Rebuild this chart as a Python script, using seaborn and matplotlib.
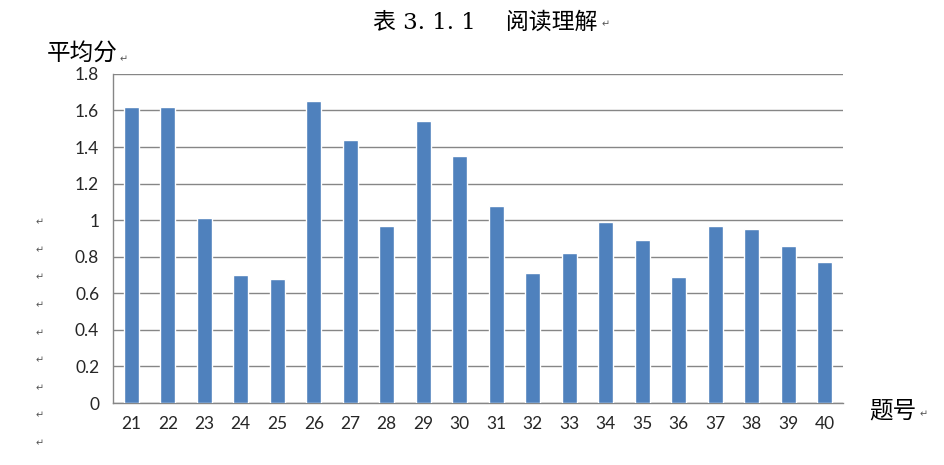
import pandas as pd
import seaborn as sns
import matplotlib.pyplot as plt

# question numbers and average scores
questions = [str(q) for q in range(21, 41)]
scores = [1.62, 1.62, 1.01, 0.70, 0.68, 1.65, 1.44, 0.97, 1.54, 1.35,
          1.08, 0.71, 0.82, 0.99, 0.89, 0.69, 0.97, 0.95, 0.86, 0.77]
yticks = [0, 0.2, 0.4, 0.6, 0.8, 1, 1.2, 1.4, 1.6, 1.8]
ytick_labels = ["0", "0.2", "0.4", "0.6", "0.8", "1", "1.2", "1.4", "1.6", "1.8"]

df = pd.DataFrame({"题号": questions, "平均分": scores})

sns.set_style("white")
plt.rcParams['font.family'] = ['Noto Sans CJK SC', 'DejaVu Sans']

fig = plt.figure(figsize=(9.45, 4.65), dpi=100)
ax = fig.add_axes([0.1196, 0.1333, 0.7725, 0.7077])

sns.barplot(data=df, x="题号", y="平均分", color="#4F81BD", width=0.42,
            saturation=1, ax=ax, zorder=3)

ax.set_ylim(0, 1.8)
ax.set_xlim(-0.5, len(questions) - 0.5)
ax.set_yticks(yticks)
ax.set_yticklabels(ytick_labels, fontsize=12.5, family=['Lato', 'DejaVu Sans'])
ax.set_xticks(range(len(questions)))
ax.set_xticklabels(questions, fontsize=12.5, family=['Lato', 'DejaVu Sans'])
ax.set_xticks([i - 0.5 for i in range(len(questions) + 1)], minor=True)
ax.tick_params(axis='x', which='major', length=0, pad=9)
ax.tick_params(axis='x', which='minor', length=5, color='#868686', width=1)
ax.tick_params(axis='y', length=6, color='#868686', width=1, pad=4)
ax.set_xlabel("")
ax.set_ylabel("")
ax.yaxis.grid(True, color='#868686', linewidth=1, zorder=0)

for side in ['top', 'right']:
    ax.spines[side].set_visible(False)
for side in ['left', 'bottom']:
    ax.spines[side].set_color('#868686')
    ax.spines[side].set_linewidth(1)

# title and axis captions
fig.text(0.513, 0.952, "表 3. 1. 1　 阅读理解", ha='center', va='center', fontsize=16.5,
         color='black', family=['DejaVu Serif', 'Noto Sans CJK SC'], weight='medium')
fig.text(0.05, 0.885, "平均分", ha='left', va='center', fontsize=17, color='black')
fig.text(0.92, 0.117, "题号", ha='left', va='center', fontsize=17, color='black')

# paragraph marks from the source document
marks = [(0.641, 0.947), (0.131, 0.873), (0.977, 0.110)]
marks += [(0.042, 1 - y / 465) for y in [222, 250, 277, 305, 333, 360, 388, 415, 443]]
for mx, my in marks:
    fig.text(mx, my, "↵", ha='center', va='center', fontsize=7, color='#555555',
             family='DejaVu Sans')

plt.savefig("out.png", dpi=100)
